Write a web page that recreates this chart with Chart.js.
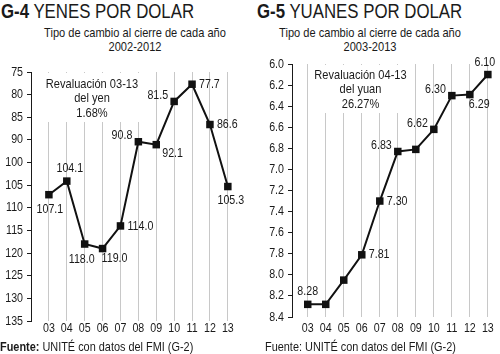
<!DOCTYPE html>
<html>
<head>
<meta charset="utf-8">
<script src="https://cdn.jsdelivr.net/npm/chart.js@4.4.1/dist/chart.umd.min.js"></script>
<style>
  html, body { margin: 0; padding: 0; background: #fff; }
  body { width: 500px; height: 354px; position: relative; overflow: hidden;
         font-family: "Liberation Sans", Arial, sans-serif; color: #1a1a1a; }
  canvas { position: absolute; top: 0; }
  .n { position: absolute; white-space: nowrap; transform: scaleX(0.82); }
  .title { top: 0px; font-size: 20.5px; line-height: 22px; transform-origin: 0 0; }
  .title b { font-weight: 900; }
  .sub { top: 26px; width: 300px; text-align: center; font-size: 13.5px; line-height: 14px; transform-origin: 50% 0; }
  .foot { top: 339px; font-size: 13.3px; line-height: 16px; transform-origin: 0 0; }
</style>
</head>
<body>
<div class="n title" style="left:1px"><b>G-4</b> YENES POR DOLAR</div>
<div class="n title" style="left:257px"><b>G-5</b> YUANES POR DOLAR</div>
<div class="n sub" style="left:-15px">Tipo de cambio al cierre de cada año<br>2002-2012</div>
<div class="n sub" style="left:220px">Tipo de cambio al cierre de cada año<br>2003-2013</div>
<canvas id="c1" width="250" height="354" style="left:0"></canvas>
<canvas id="c2" width="250" height="354" style="left:250px"></canvas>
<div class="n foot" style="left:0"><b>Fuente:</b> UNITÉ con datos del FMI (G-2)</div>
<div class="n foot" style="left:265px">Fuente: UNITÉ con datos del FMI (G-2)</div>
<script>
// ---- data ----
const categories = ['03','04','05','06','07','08','09','10','11','12','13'];
const yenValues  = [107.1, 104.1, 118.0, 119.0, 114.0, 90.8, 92.1, 81.5, 77.7, 86.6, 105.3];
const yuanValues = [8.28, 8.28, 8.05, 7.81, 7.30, 6.83, 6.81, 6.62, 6.30, 6.29, 6.10];
const yenTicks   = [75, 80, 85, 90, 100, 105, 110, 115, 120, 125, 130, 135];
const yuanTicks  = [6.0, 6.2, 6.4, 6.6, 6.8, 7.0, 7.2, 7.4, 7.6, 7.8, 8.0, 8.2, 8.4];
// label placement per point (style only; null = no label)
const yenLabelPos  = ['below','aboveRight','belowLeft','belowStart','right','left','belowRight','left','right','right','belowRight2'];
const yuanLabelPos = ['above',null,null,'right','right','left',null,'left','left','belowStart','aboveLeft'];

const FONT = '"Liberation Sans", Arial, sans-serif';
const NARROW = 0.82;
const INK = '#1a1a1a';

// draw horizontally condensed text (mimics a narrow typeface)
function narrowText(ctx, text, x, y, align, size, weight) {
  ctx.save();
  ctx.font = (weight || 'normal') + ' ' + size + 'px ' + FONT;
  ctx.fillStyle = INK;
  ctx.textAlign = align;
  ctx.textBaseline = 'middle';
  ctx.translate(x, y);
  ctx.scale(NARROW, 1);
  ctx.fillText(text, 0, 0);
  ctx.restore();
}
function narrowWidth(ctx, text, size) {
  ctx.save();
  ctx.font = size + 'px ' + FONT;
  const w = ctx.measureText(text).width * NARROW;
  ctx.restore();
  return w;
}

// Scale whose listed tick values are evenly spaced (as in the printed chart)
class EvenTickScale extends Chart.LinearScale {
  buildTicks() {
    const tv = this.options.tickValues;
    this.min = tv[0]; this.max = tv[tv.length - 1];
    return tv.map(v => ({ value: v }));
  }
  _frac(v) {
    const tv = this.options.tickValues;
    const n = tv.length;
    if (v <= tv[0]) return (v - tv[0]) / (tv[1] - tv[0]);
    for (let i = 0; i < n - 1; i++) {
      if (v <= tv[i + 1]) return i + (v - tv[i]) / (tv[i + 1] - tv[i]);
    }
    return (n - 1) + (v - tv[n - 1]) / (tv[n - 1] - tv[n - 2]);
  }
  getPixelForValue(v) {
    const n = this.options.tickValues.length;
    return this.getPixelForDecimal(this._frac(v) / (n - 1));
  }
  getValueForPixel(p) {
    const tv = this.options.tickValues;
    const f = this.getDecimalForPixel(p) * (tv.length - 1);
    const i = Math.max(0, Math.min(tv.length - 2, Math.floor(f)));
    return tv[i] + (f - i) * (tv[i + 1] - tv[i]);
  }
}
EvenTickScale.id = 'eventick';
EvenTickScale.defaults = Chart.LinearScale.defaults;
Chart.register(EvenTickScale);

const placements = {
  above:       { align: 'center', dx: 0,  dy: -13 },
  aboveRight:  { align: 'center', dx: 3,  dy: -13 },
  aboveLeft:   { align: 'center', dx: -3, dy: -12 },
  below:       { align: 'center', dx: 1,  dy: 15 },
  belowLeft:   { align: 'center', dx: -3, dy: 15 },
  belowRight2: { align: 'center', dx: 3,  dy: 14 },
  left:        { align: 'right',  dx: -6, dy: -6 },
  right:       { align: 'left',   dx: 7,  dy: 0 },
  belowRight:  { align: 'left',   dx: 6,  dy: 9 },
  belowStart:  { align: 'left',   dx: -1, dy: 10 }
};

const labelPlugin = {
  id: 'pointLabels',
  afterDatasetsDraw(chart, args, opts) {
    const meta = chart.getDatasetMeta(0);
    const ds = chart.data.datasets[0];
    meta.data.forEach((pt, i) => {
      const p = opts.positions[i];
      if (!p) return;
      const pl = placements[p];
      narrowText(chart.ctx, ds.data[i].y.toFixed(opts.decimals), pt.x + pl.dx, pt.y + pl.dy, pl.align, 13);
    });
  }
};

const tickLabelPlugin = {
  id: 'narrowTicks',
  afterDraw(chart, args, opts) {
    const ctx = chart.ctx;
    const xs = chart.scales.x, ys = chart.scales.y;
    ys.ticks.forEach(t => {
      narrowText(ctx, opts.yFmt(t.value), chart.chartArea.left - 8, ys.getPixelForValue(t.value), 'right', 13);
    });
    xs.ticks.forEach(t => {
      narrowText(ctx, categories[t.value], xs.getPixelForValue(t.value), opts.xLabelY, 'center', 13);
    });
  }
};

const notePlugin = {
  id: 'note',
  beforeDatasetsDraw(chart, args, opts) {
    const ctx = chart.ctx;
    const a = chart.chartArea;
    const cx = a.left + opts.dx;
    let w = 0;
    opts.lines.forEach(t => { w = Math.max(w, narrowWidth(ctx, t, 13.5)); });
    ctx.save();
    ctx.fillStyle = '#fff';
    ctx.fillRect(cx - w / 2 - 2, a.top + 1, w + 4, opts.dy + 14.5 * (opts.lines.length - 1) + 8);
    ctx.restore();
    opts.lines.forEach((t, i) => narrowText(ctx, t, cx, a.top + opts.dy + i * 14.5, 'center', 13.5));
  }
};

function makeChart(id, values, ticks, decimals, labelPos, xMin, xMax, yWidth, top, xHeight, padRight, note, tickFmt, xLabelY) {
  return new Chart(document.getElementById(id), {
    type: 'line',
    data: {
      datasets: [{
        data: values.map((v, i) => ({ x: i, y: v })),
        borderColor: '#111',
        borderWidth: 2,
        pointStyle: 'rect',
        pointRadius: 5.3,
        pointBackgroundColor: '#111',
        pointBorderWidth: 0,
        tension: 0,
        clip: false
      }]
    },
    options: {
      responsive: false,
      devicePixelRatio: 1,
      animation: false,
      layout: { padding: { top: top, right: padRight, bottom: 0, left: 0 } },
      plugins: {
        legend: { display: false },
        tooltip: { enabled: false },
        pointLabels: { positions: labelPos, decimals: decimals },
        narrowTicks: { yFmt: tickFmt, xLabelY: xLabelY },
        note: note
      },
      scales: {
        x: {
          type: 'linear',
          min: xMin, max: xMax,
          afterBuildTicks: s => { s.ticks = categories.map((c, i) => ({ value: i })); },
          afterFit: s => { s.height = xHeight; },
          grid: { color: '#c8c8c8', lineWidth: 1, drawTicks: false },
          border: { display: false },
          ticks: { display: false }
        },
        y: {
          type: 'eventick',
          reverse: true,
          tickValues: ticks,
          afterFit: s => { s.width = yWidth; },
          grid: { drawOnChartArea: false, drawTicks: true, tickLength: 4, tickColor: INK, tickWidth: 1 },
          border: { display: true, color: INK, width: 1 },
          ticks: { display: false }
        }
      }
    },
    plugins: [labelPlugin, notePlugin, tickLabelPlugin]
  });
}

makeChart('c1', yenValues, yenTicks, 1, yenLabelPos, -1, 10.68, 31, 72, 33, 10,
  { lines: ['Revaluación 03-13', 'del yen', '1.68%'], dx: 61, dy: 12 },
  v => String(v), 328);
makeChart('c2', yuanValues, yuanTicks, 2, yuanLabelPos, -0.874, 10.38, 42, 64, 37, 2,
  { lines: ['Revaluación 04-13', 'del yuan', '26.27%'], dx: 68.5, dy: 11 },
  v => Number(v).toFixed(1), 328);
</script>
</body>
</html>
